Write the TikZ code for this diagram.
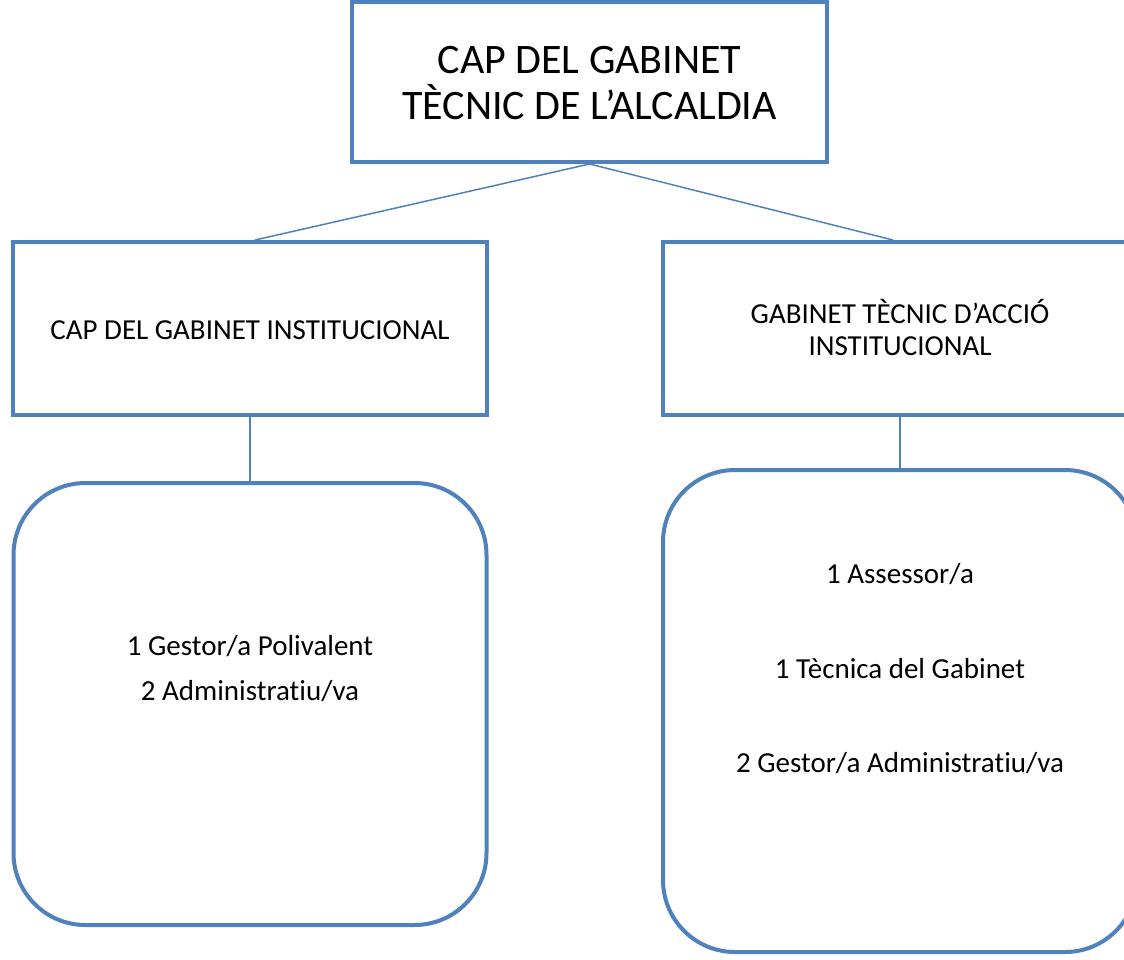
\documentclass[tikz,border=0pt]{standalone}
\usepackage{fontspec}
\setmainfont{Carlito}[Ligatures=NoCommon]
\definecolor{boxblue}{HTML}{4F81BD}
\tikzset{
  unitbox/.style={draw=boxblue, line width=4pt, rectangle, inner sep=0pt},
  staffbox/.style={unitbox, rounded corners=72pt},
  link/.style={draw=boxblue, line width=1.5pt},
  txt/.style={anchor=base, inner sep=0pt, font=\fontsize{29}{32}\selectfont}
}
\begin{document}
\begin{tikzpicture}[x=1pt, y=-1pt]
\clip (0,0) rectangle (1124,959);
\fill[white] (0,0) rectangle (1124,959);

\node[unitbox, minimum width=475pt, minimum height=160pt] (cap) at (589.5,82){};
\node[anchor=base, inner sep=0pt, font=\fontsize{42}{46}\selectfont] (capA) at (589.5,73){CAP DEL GABINET};
\node[anchor=base, inner sep=0pt, font=\fontsize{42}{46}\selectfont] (capB) at (589.5,119){TÈCNIC DE L’ALCALDIA};

\node[unitbox, minimum width=474pt, minimum height=173pt] (inst) at (250,328.5){};
\node[txt] (instA) at (250,339){CAP DEL GABINET INSTITUCIONAL};

\node[unitbox, minimum width=474pt, minimum height=173pt] (acc) at (900,328.5){};
\node[txt] (accA) at (900,323){GABINET TÈCNIC D’ACCIÓ};
\node[txt] (accB) at (900,355){INSTITUCIONAL};

\node[staffbox, minimum width=473pt, minimum height=442pt] (left) at (250,704){};
\node[txt] (leftA) at (250,655){1 Gestor/a Polivalent};
\node[txt] (leftB) at (250,700){2 Administrat\kern0pt iu/va};

\node[staffbox, minimum width=474pt, minimum height=482pt] (right) at (900,711){};
\node[txt] (rightA) at (900,583){1 Assessor/a};
\node[txt] (rightB) at (900,678){1 Tècnica del Gabinet};
\node[txt] (rightC) at (900,772){2 Gestor/a Administrat\kern0pt iu/va};

\draw[link] (cap.south) -- ([xshift=5pt]inst.north);
\draw[link] (cap.south) -- ([xshift=-7pt]acc.north);
\draw[link] (inst.south) -- (left.north);
\draw[link] (acc.south) -- (right.north);

\end{tikzpicture}
\end{document}
